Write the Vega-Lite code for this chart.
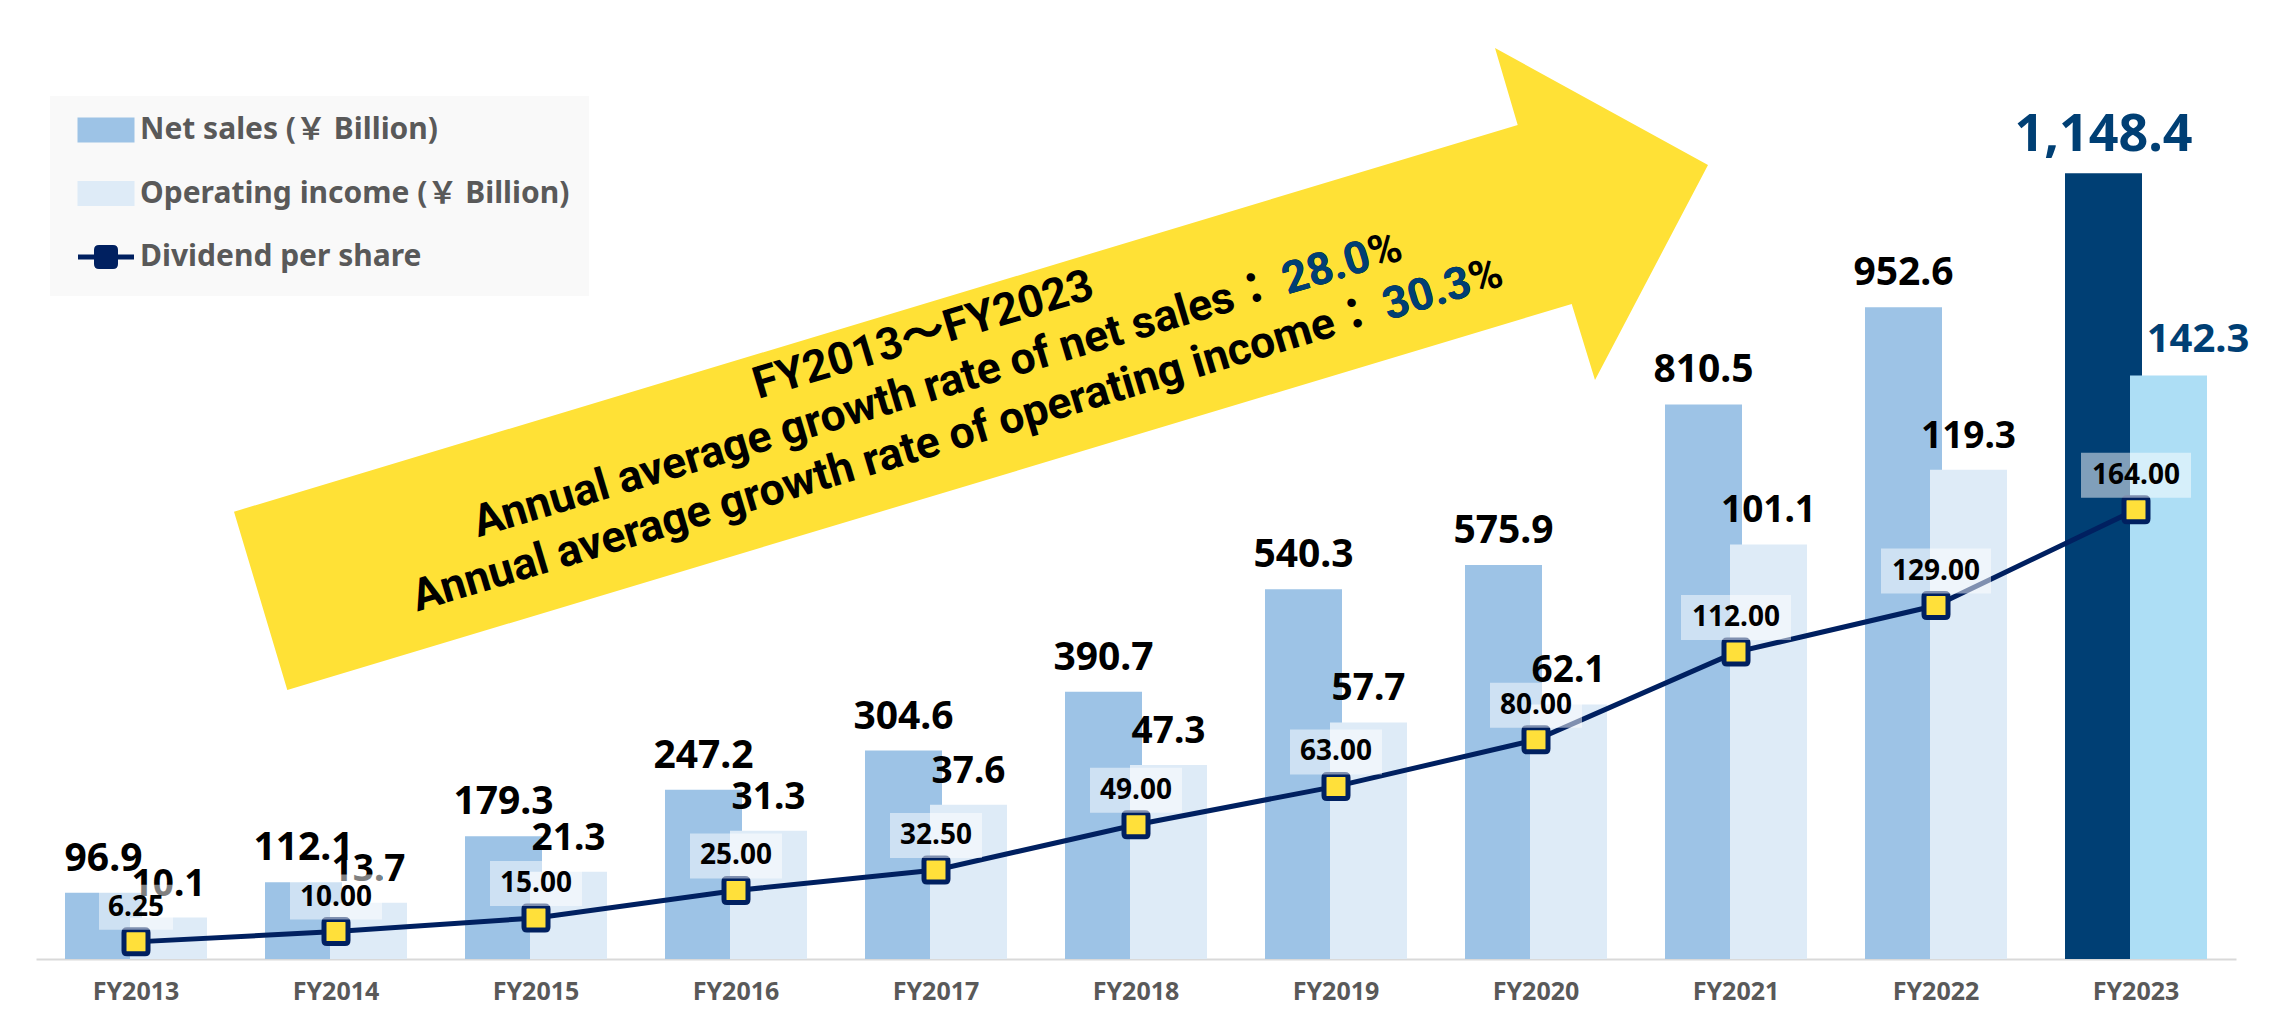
{
  "$schema": "https://vega.github.io/schema/vega-lite/v6.json",
  "width": 2200,
  "height": 909,
  "autosize": {"type": "none"},
  "padding": {"left": 36, "top": 50, "right": 49, "bottom": 55},
  "background": "white",
  "config": {"view": {"stroke": null}, "font": "Noto Sans, Noto Sans CJK JP"},
  "data": {"values": [
    {"year": "FY2013", "net": 96.9, "op": 10.1, "div": 6.25},
    {"year": "FY2014", "net": 112.1, "op": 13.7, "div": 10.0},
    {"year": "FY2015", "net": 179.3, "op": 21.3, "div": 15.0},
    {"year": "FY2016", "net": 247.2, "op": 31.3, "div": 25.0},
    {"year": "FY2017", "net": 304.6, "op": 37.6, "div": 32.5},
    {"year": "FY2018", "net": 390.7, "op": 47.3, "div": 49.0},
    {"year": "FY2019", "net": 540.3, "op": 57.7, "div": 63.0},
    {"year": "FY2020", "net": 575.9, "op": 62.1, "div": 80.0},
    {"year": "FY2021", "net": 810.5, "op": 101.1, "div": 112.0},
    {"year": "FY2022", "net": 952.6, "op": 119.3, "div": 129.0},
    {"year": "FY2023", "net": 1148.4, "op": 142.3, "div": 164.0}
  ]},
  "encoding": {
    "x": {
      "field": "year", "type": "nominal",
      "scale": {"type": "band", "domain": ["FY2013","FY2014","FY2015","FY2016","FY2017","FY2018","FY2019","FY2020","FY2021","FY2022","FY2023"], "paddingInner": 0, "paddingOuter": 0},
      "axis": {"title": null, "labelAngle": 0, "ticks": false, "grid": false, "domainColor": "#d9d9d9", "domainWidth": 2, "labelPadding": 20, "labelFontSize": 25, "labelFontWeight": "bold", "labelColor": "#595959", "labelFont": "Noto Sans"}
    }
  },
  "layer": [
    {
      "data": {"values": [{}]},
      "mark": {"type": "point", "shape": "M-902,100.7L381.7,-286L359,-363L572,-246L459,-31L435.7,-107L-848.7,279Z", "size": 4, "filled": true, "fill": "#ffe136", "strokeWidth": 0, "opacity": 1},
      "encoding": {"x": {"datum": "FY2018", "type": "nominal"}, "y": {"datum": 200, "type": "quantitative", "scale": {"domain": [0, 331.75], "nice": false}, "axis": null}}
    },
    {
      "data": {"values": [{}]},
      "mark": {"type": "text", "text": "FY2013～FY2023", "angle": 343.3, "dx": -182, "dy": -120, "align": "center", "baseline": "alphabetic", "font": "Roboto, Noto Sans CJK JP", "fontSize": 44.5, "fontWeight": "bold", "color": "#000000"},
      "encoding": {"x": {"datum": "FY2018", "type": "nominal"}, "y": {"datum": 200, "type": "quantitative", "scale": {"domain": [0, 331.75], "nice": false}, "axis": null}}
    },
    {
      "data": {"values": [{}]},
      "mark": {"type": "text", "text": "Annual average growth rate of net sales：", "angle": 343.3, "dx": 170.5, "dy": -68, "align": "right", "baseline": "alphabetic", "font": "Roboto, Noto Sans CJK JP", "fontSize": 44.5, "fontWeight": "bold", "color": "#000000"},
      "encoding": {"x": {"datum": "FY2018", "type": "nominal"}, "y": {"datum": 200, "type": "quantitative", "scale": {"domain": [0, 331.75], "nice": false}, "axis": null}}
    },
    {
      "data": {"values": [{}]},
      "mark": {"type": "text", "text": "28.0%", "angle": 343.3, "dx": 178.5, "dy": -68, "align": "left", "baseline": "alphabetic", "font": "Roboto, Noto Sans CJK JP", "fontSize": 44.5, "fontWeight": "bold", "color": "#000000"},
      "encoding": {"x": {"datum": "FY2018", "type": "nominal"}, "y": {"datum": 200, "type": "quantitative", "scale": {"domain": [0, 331.75], "nice": false}, "axis": null}}
    },
    {
      "data": {"values": [{}]},
      "mark": {"type": "text", "text": "28.0", "angle": 343.3, "dx": 178.5, "dy": -68, "align": "left", "baseline": "alphabetic", "font": "Roboto, Noto Sans CJK JP", "fontSize": 44.5, "fontWeight": "bold", "color": "#003f74"},
      "encoding": {"x": {"datum": "FY2018", "type": "nominal"}, "y": {"datum": 200, "type": "quantitative", "scale": {"domain": [0, 331.75], "nice": false}, "axis": null}}
    },
    {
      "data": {"values": [{}]},
      "mark": {"type": "text", "text": "Annual average growth rate of operating income：", "angle": 343.3, "dx": 259.8, "dy": -14.5, "align": "right", "baseline": "alphabetic", "font": "Roboto, Noto Sans CJK JP", "fontSize": 44.5, "fontWeight": "bold", "color": "#000000"},
      "encoding": {"x": {"datum": "FY2018", "type": "nominal"}, "y": {"datum": 200, "type": "quantitative", "scale": {"domain": [0, 331.75], "nice": false}, "axis": null}}
    },
    {
      "data": {"values": [{}]},
      "mark": {"type": "text", "text": "30.3%", "angle": 343.3, "dx": 267.8, "dy": -14.5, "align": "left", "baseline": "alphabetic", "font": "Roboto, Noto Sans CJK JP", "fontSize": 44.5, "fontWeight": "bold", "color": "#000000"},
      "encoding": {"x": {"datum": "FY2018", "type": "nominal"}, "y": {"datum": 200, "type": "quantitative", "scale": {"domain": [0, 331.75], "nice": false}, "axis": null}}
    },
    {
      "data": {"values": [{}]},
      "mark": {"type": "text", "text": "30.3", "angle": 343.3, "dx": 267.8, "dy": -14.5, "align": "left", "baseline": "alphabetic", "font": "Roboto, Noto Sans CJK JP", "fontSize": 44.5, "fontWeight": "bold", "color": "#003f74"},
      "encoding": {"x": {"datum": "FY2018", "type": "nominal"}, "y": {"datum": 200, "type": "quantitative", "scale": {"domain": [0, 331.75], "nice": false}, "axis": null}}
    },
    {
      "mark": {"type": "bar", "width": 77, "xOffset": -32.5},
      "encoding": {
        "y": {"field": "net", "type": "quantitative", "scale": {"domain": [0, 1328.5], "nice": false}, "axis": null},
        "color": {
          "datum": "Net sales (￥ Billion)", "type": "nominal",
          "condition": {"test": "datum.year === 'FY2023'", "value": "#003f74"},
          "scale": {"domain": ["Net sales (￥ Billion)", "Operating income (￥ Billion)", "Dividend per share"], "range": ["#9dc3e6", "#deebf7", "#002060"]},
          "legend": {
            "orient": "none", "legendX": 14, "legendY": 46, "title": null,
            "fillColor": "#f9f9f9", "padding": 19,
            "symbolOffset": 22, "labelOffset": 19, "rowPadding": 23.5, "symbolSize": 4,
            "labelFont": "Noto Sans, Noto Sans CJK JP", "labelFontSize": 30, "labelFontWeight": "bold", "labelColor": "#595959", "labelLimit": 1000,
            "encode": {"symbols": {"update": {
              "shape": {"signal": "datum.index === 2 ? 'M-28,0H-9.5M9.5,0H28M-7,-9.5H7Q9.5,-9.5 9.5,-7V7Q9.5,9.5 7,9.5H-7Q-9.5,9.5 -9.5,7V-7Q-9.5,-9.5 -7,-9.5Z' : 'M-26,-10H26V10H-26Z'"},
              "size": {"value": 4},
              "fill": {"signal": "datum.index === 0 ? '#9dc3e6' : datum.index === 1 ? '#deebf7' : '#ffe03a'"},
              "stroke": {"signal": "datum.index === 2 ? '#002060' : 'transparent'"},
              "strokeWidth": {"value": 5},
              "opacity": {"value": 1},
              "fillOpacity": {"value": 1},
              "strokeOpacity": {"value": 1}
            }}}
          }
        }
      }
    },
    {
      "mark": {"type": "bar", "width": 77, "xOffset": 32.5},
      "encoding": {
        "y": {"field": "op", "type": "quantitative", "scale": {"domain": [0, 221.7], "nice": false}, "axis": null},
        "color": {"datum": "Operating income (￥ Billion)", "type": "nominal", "condition": {"test": "datum.year === 'FY2023'", "value": "#addef5"}}
      }
    },
    {
      "mark": {"type": "text", "dx": -32.5, "dy": -22, "align": "center", "baseline": "alphabetic", "fontWeight": "bold"},
      "encoding": {
        "y": {"field": "net", "type": "quantitative", "scale": {"domain": [0, 1328.5], "nice": false}, "axis": null},
        "text": {"field": "net", "type": "quantitative", "format": ",.1f"},
        "size": {"condition": {"test": "datum.year === 'FY2023'", "value": 52}, "value": 39},
        "color": {"condition": {"test": "datum.year === 'FY2023'", "value": "#003f74"}, "value": "#000000"}
      }
    },
    {
      "transform": [{"filter": "datum.year !== 'FY2023'"}],
      "mark": {"type": "text", "dx": 32.5, "dy": -22, "align": "center", "baseline": "alphabetic", "fontWeight": "bold", "fontSize": 37, "color": "#000000"},
      "encoding": {
        "y": {"field": "op", "type": "quantitative", "scale": {"domain": [0, 221.7], "nice": false}, "axis": null},
        "text": {"field": "op", "type": "quantitative", "format": ",.1f"}
      }
    },
    {
      "transform": [{"filter": "datum.year === 'FY2023'"}],
      "mark": {"type": "text", "dx": 62, "dy": -24, "align": "center", "baseline": "alphabetic", "fontWeight": "bold", "fontSize": 40, "color": "#003f74"},
      "encoding": {
        "y": {"field": "op", "type": "quantitative", "scale": {"domain": [0, 221.7], "nice": false}, "axis": null},
        "text": {"field": "op", "type": "quantitative", "format": ",.1f"}
      }
    },
    {
      "mark": {"type": "line", "strokeWidth": 5},
      "encoding": {
        "y": {"field": "div", "type": "quantitative", "scale": {"domain": [0, 331.75], "nice": false}, "axis": null},
        "color": {"datum": "Dividend per share", "type": "nominal"}
      }
    },
    {
      "mark": {"type": "point", "shape": "M-9,-12H9Q12,-12 12,-9V9Q12,12 9,12H-9Q-12,12 -12,9V-9Q-12,-12 -9,-12Z", "size": 4, "filled": true, "fill": "#ffe03a", "stroke": "#002060", "strokeWidth": 5, "opacity": 1},
      "encoding": {
        "y": {"field": "div", "type": "quantitative", "scale": {"domain": [0, 331.75], "nice": false}, "axis": null}
      }
    },
    {
      "mark": {"type": "bar", "yOffset": -57, "y2Offset": -12, "color": "#ffffff", "opacity": 0.5},
      "encoding": {
        "y": {"field": "div", "type": "quantitative", "scale": {"domain": [0, 331.75], "nice": false}, "axis": null},
        "y2": {"field": "div"},
        "size": {"condition": [{"test": "datum.div >= 100", "value": 110}, {"test": "datum.div < 10", "value": 74}], "value": 92}
      }
    },
    {
      "mark": {"type": "text", "dy": -34, "align": "center", "baseline": "middle", "fontWeight": "bold", "fontSize": 28, "color": "#000000"},
      "encoding": {
        "y": {"field": "div", "type": "quantitative", "scale": {"domain": [0, 331.75], "nice": false}, "axis": null},
        "text": {"field": "div", "type": "quantitative", "format": ".2f"}
      }
    }
  ],
  "resolve": {"scale": {"y": "independent"}}
}
